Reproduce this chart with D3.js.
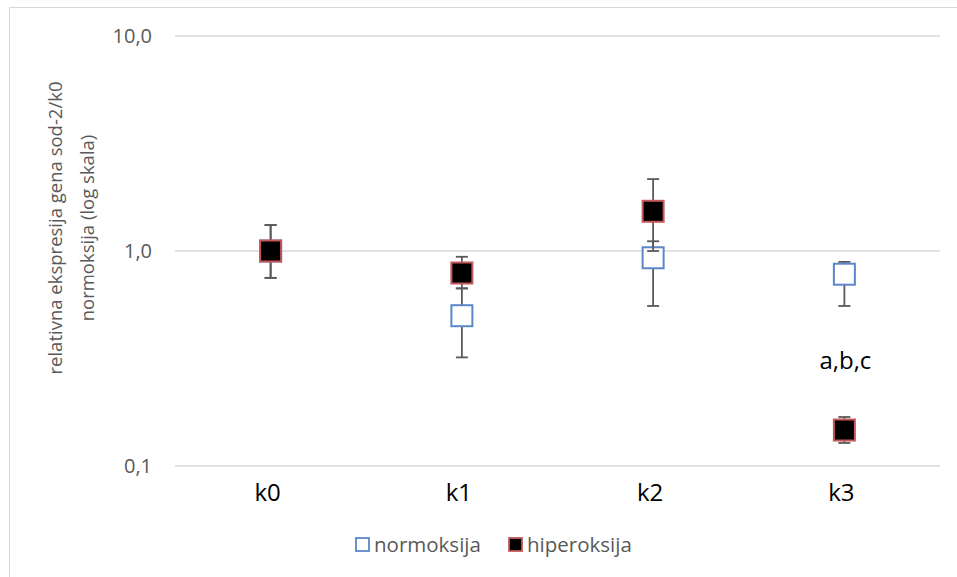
<!DOCTYPE html>
<html>
<head>
<meta charset="utf-8">
<title>sod-2</title>
<script src="https://d3js.org/d3.v7.min.js"></script>
<style>
	*{ margin:0; padding:0; }
	body{ background:#fff; }
	svg{ font-family:"Open Sans", sans-serif; }
</style>
</head>
<body>
<svg id="chart" width="957" height="577"></svg>
<script>
	// data
	var categories = ["k0", "k1", "k2", "k3"];
	var normoksija = [1.0, 0.50, 0.93, 0.78];
	var normoLow  = [0.75, 0.32, 0.555, 0.555];
	var normoHigh = [1.32, 0.67, 1.11, 0.89];
	var hiperoksija = [1.0, 0.79, 1.53, 0.147];
	var hiperLow  = [0.75, 0.67, 1.0, 0.128];
	var hiperHigh = [1.32, 0.94, 2.16, 0.169];
	var yTicks = [0.1, 1, 10];
	var note = {cat: "k3", text: "a,b,c"};

	var svg = d3.select("#chart");

	// chart frame
	svg.append("rect")
		.attr("x", 9.5).attr("y", 7.5)
		.attr("width", 960).attr("height", 580)
		.attr("fill", "#fff").attr("stroke", "#d9d9d9");

	var x = d3.scaleBand().domain(categories).range([175, 940]);
	var y = d3.scaleLog().domain([0.1, 10]).range([466, 36]);

	// gridlines
	svg.append("g").selectAll("line")
		.data(yTicks).enter().append("line")
		.attr("x1", 175).attr("x2", 940)
		.attr("y1", d => y(d)).attr("y2", d => y(d))
		.attr("stroke", "#d9d9d9").attr("stroke-width", 1.5);

	var yAxis = d3.axisLeft(y).tickValues(yTicks)
		.tickFormat(d => d3.format(".1f")(d).replace(".", ","))
		.tickSize(0).tickPadding(23);
	svg.append("g").attr("transform", "translate(175,0)").call(yAxis)
		.call(g => g.select(".domain").remove())
		.selectAll("text").attr("fill", "#595959")
		.style("font-size", "20px").style("font-family", "'Open Sans', sans-serif");

	var xAxis = d3.axisBottom(x).tickSize(0).tickPadding(0);
	svg.append("g").attr("transform", "translate(-3,0)").call(xAxis)
		.call(g => g.select(".domain").remove())
		.selectAll("text").attr("fill", "#000").attr("y", 501).attr("dy", null)
		.style("font-size", "24px").style("font-family", "'Open Sans', sans-serif");

	// y title
	var title = svg.append("text")
		.attr("transform", "translate(0,228) rotate(-90)")
		.attr("text-anchor", "middle")
		.attr("fill", "#595959").style("font-size", "18.5px");
	title.append("tspan").attr("x", 0).attr("y", 62).text("relativna ekspresija gena sod-2/k0");
	title.append("tspan").attr("x", 0).attr("y", 94).text("normoksija (log skala)");

	var series = [
		{name: "normoksija", val: normoksija, lo: normoLow, hi: normoHigh, fill: "#fff", stroke: "#5b87c9"},
		{name: "hiperoksija", val: hiperoksija, lo: hiperLow, hi: hiperHigh, fill: "#000", stroke: "#c5585a"}
	];

	var ms = 21, cap = 6;
	series.forEach(function(s) {
		var g = svg.append("g");
		var pts = categories.map((c, i) => ({c: c, v: s.val[i], lo: s.lo[i], hi: s.hi[i]}));
		var cx = d => x(d.c) + x.bandwidth() / 2;
		g.selectAll(".err").data(pts).enter().append("line")
			.attr("x1", cx).attr("x2", cx)
			.attr("y1", d => y(d.lo)).attr("y2", d => y(d.hi))
			.attr("stroke", "#595959").attr("stroke-width", 1.8);
		[["lo"], ["hi"]].forEach(function(k) {
			g.selectAll(".cap" + k).data(pts).enter().append("line")
				.attr("x1", d => cx(d) - cap).attr("x2", d => cx(d) + cap)
				.attr("y1", d => y(d[k])).attr("y2", d => y(d[k]))
				.attr("stroke", "#595959").attr("stroke-width", 1.8);
		});
		g.selectAll("rect").data(pts).enter().append("rect")
			.attr("x", d => cx(d) - ms / 2).attr("y", d => y(d.v) - ms / 2)
			.attr("width", ms).attr("height", ms)
			.attr("fill", s.fill).attr("stroke", s.stroke).attr("stroke-width", 2);
	});

	// significance note
	svg.append("text")
		.attr("x", x(note.cat) + x.bandwidth() / 2 + 1)
		.attr("y", 369)
		.attr("text-anchor", "middle")
		.style("font-size", "24px").attr("fill", "#000")
		.text(note.text);

	// legend
	var legend = svg.append("g").attr("transform", "translate(355,545)");
	var lx = [0, 153];
	series.forEach(function(s, i) {
		var lg = legend.append("g").attr("transform", "translate(" + lx[i] + ",0)");
		lg.append("rect").attr("x", 1).attr("y", -7).attr("width", 13).attr("height", 13)
			.attr("fill", s.fill).attr("stroke", s.stroke).attr("stroke-width", 1.8);
		lg.append("text").attr("x", 19).attr("y", 7)
			.attr("fill", "#595959").style("font-size", "20.5px").text(s.name);
	});
</script>
</body>
</html>
